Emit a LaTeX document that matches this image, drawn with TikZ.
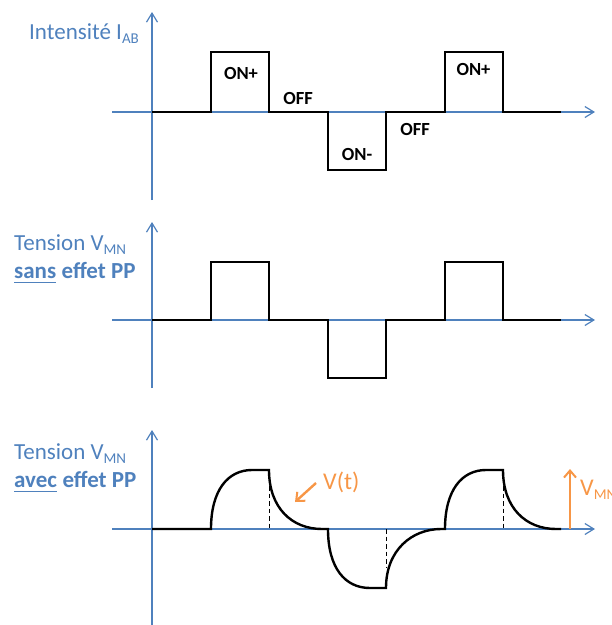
\documentclass[tikz,border=0pt]{standalone}
\usepackage{fontspec}
\setmainfont{Carlito}
\usetikzlibrary{arrows.meta}
\definecolor{axblue}{HTML}{4F81BD}
\definecolor{orng}{HTML}{F79646}
\newcommand{\lowsub}[1]{\raisebox{-4pt}{\fontsize{15}{15}\selectfont #1}}
\begin{document}
\begin{tikzpicture}[x=1pt,y=-1pt,
  axis/.style={draw=axblue,line width=1.3pt,-{Straight Barb[length=9pt,width=11pt,line width=1.2pt]}},
  sig/.style={line width=2.4pt,line join=miter},
  lbl/.style={inner sep=0pt,font=\fontsize{18.5}{18.5}\selectfont\bfseries},
  ttl/.style={anchor=base west,inner sep=0pt,text=axblue,font=\fontsize{23}{23}\selectfont},
  ttlb/.style={ttl,font=\fontsize{23}{23}\selectfont\bfseries},
  dsh/.style={line width=1pt,dash pattern=on 4.5pt off 3pt},
  orarrow/.style={draw=orng,line width=2.4pt,-{Straight Barb[length=7pt,width=12pt,line width=2pt]}},
  ortext/.style={anchor=base west,inner sep=0pt,text=orng,font=\fontsize{24}{24}\selectfont}]
\useasboundingbox (0,0) rectangle (612,625);

% ---------- Panel 1 ----------
\coordinate (a1b) at (152,200); \coordinate (a1t) at (152,12);
\coordinate (h1l) at (112,112); \coordinate (h1r) at (595,112);
\draw[axis] (a1b) -- (a1t);
\draw[axis] (h1l) -- (h1r);
\draw[sig] (152,112) -- (211,112) -- (211,52) -- (269,52) -- (269,112) -- (328,112)
  -- (328,170) -- (386,170) -- (386,112) -- (445,112) -- (445,52) -- (503,52) -- (503,112) -- (561,112);
\node[ttl] (t1) at (29,39) {Intensité I\lowsub{AB}};
\node[lbl] (on1) at (241,73) {ON+};
\node[lbl] (off1) at (298,98) {OFF};
\node[lbl] (onm) at (357,154.5) {ON-};
\node[lbl] (off2) at (415,129.5) {OFF};
\node[lbl] (on2) at (473.5,69.5) {ON+};

% ---------- Panel 2 ----------
\coordinate (a2b) at (152,388); \coordinate (a2t) at (152,222);
\coordinate (h2l) at (112,320); \coordinate (h2r) at (595,320);
\draw[axis] (a2b) -- (a2t);
\draw[axis] (h2l) -- (h2r);
\draw[sig] (152,320) -- (211,320) -- (211,262) -- (269,262) -- (269,320) -- (328,320)
  -- (328,378) -- (386,378) -- (386,320) -- (445,320) -- (445,262) -- (503,262) -- (503,320) -- (561,320);
\node[ttl] (t2) at (14,250) {Tension V\lowsub{MN}};
\node[ttlb] (s2) at (14,278) {sans};
\node[ttlb,anchor=base west] (e2) at ([xshift=5pt]s2.base east) {effet PP};
\draw[axblue,line width=1.8pt] ([yshift=-4.5pt]s2.base west) -- ([yshift=-4.5pt]s2.base east);

% ---------- Panel 3 ----------
\coordinate (a3b) at (152,626); \coordinate (a3t) at (152,430);
\coordinate (h3l) at (112,529); \coordinate (h3r) at (595,529);
\draw[axis] (a3b) -- (a3t);
\draw[axis] (h3l) -- (h3r);
\draw[dsh] (269,486) -- (269,529);
\draw[dsh] (386,529) -- (386,568);
\draw[dsh] (503,486) -- (503,529);
\draw[sig] (152,529) -- (211,529) .. controls (211,490) and (228,470) .. (252,470) -- (269,470)
  .. controls (269,508) and (292,529) .. (322,529) -- (328,529)
  .. controls (328,568) and (345,588) .. (370,588) -- (386,588)
  .. controls (386,550) and (412,529) .. (441,529) -- (445,529)
  .. controls (445,490) and (462,470) .. (486,470) -- (503,470)
  .. controls (503,508) and (526,529) .. (556,529) -- (561,529);
\node[ttl] (t3) at (14,459) {Tension V\lowsub{MN}};
\node[ttlb] (s3) at (14,487) {avec};
\node[ttlb,anchor=base west] (e3) at ([xshift=5pt]s3.base east) {effet PP};
\draw[axblue,line width=1.8pt] ([yshift=-4.5pt]s3.base west) -- ([yshift=-4.5pt]s3.base east);

% orange annotations
\node[ortext] (vt) at (323,489) {V(t)};
\coordinate (vta) at (316,483); \coordinate (vtb) at (295,502);
\draw[orarrow] (vta) -- (vtb);
\coordinate (vma) at (570,529); \coordinate (vmb) at (570,469);
\draw[orarrow] (vma) -- (vmb);
\node[ortext] (vmn) at (580,495) {V\lowsub{MN}};
\end{tikzpicture}
\end{document}
